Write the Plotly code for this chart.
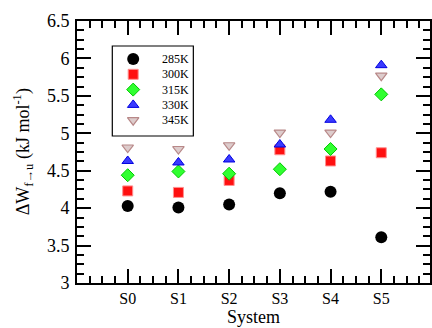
import plotly.graph_objects as go

# Work of unfolding per system at five temperatures
systems = ["S0", "S1", "S2", "S3", "S4", "S5"]
temps = ["285K", "300K", "315K", "330K", "345K"]
w_285 = [4.03, 4.01, 4.05, 4.20, 4.22, 3.61]
w_300 = [4.23, 4.21, 4.37, 4.78, 4.63, 4.74]
w_315 = [4.44, 4.49, 4.46, 4.52, 4.79, 5.52]
w_330 = [4.63, 4.61, 4.65, 4.85, 5.18, 5.91]
w_345 = [4.81, 4.79, 4.84, 5.01, 5.01, 5.77]

series = [w_285, w_300, w_315, w_330, w_345]
styles = [
    dict(symbol="circle", size=12, color="#000000", line=dict(color="#000000", width=0)),
    dict(symbol="square", size=10, color="#ff1010", line=dict(color="#ff9090", width=1)),
    dict(symbol="diamond", size=10, color="#30ff30", line=dict(color="#00c800", width=1)),
    dict(symbol="triangle-up", size=10, color="#3a3aff", line=dict(color="#0000e0", width=1)),
    dict(symbol="triangle-down", size=10, color="#ddcccc", line=dict(color="#b88888", width=1.2)),
]

FONT = "Liberation Serif, Times New Roman, serif"
W, H = 432, 328
L, T, B, R = 77, 21, 45, 0
unit_px = 51.0  # pixels per category step
plot_w = W - L - R
x_max = plot_w / unit_px

xpos = list(range(1, len(systems) + 1))

fig = go.Figure()
for vals, st, name in zip(series, styles, temps):
    fig.add_trace(go.Scatter(
        x=xpos, y=vals, mode="markers", name=name, showlegend=False,
        marker=st, cliponaxis=False,
    ))

# Boxed key in the upper left corner
box_l, box_t, box_r, box_b = 112.5, 46, 194, 136
row0, row_gap = 59, 15.3
sym_x, txt_x = 133.5, 160


def px_to_paper(xp, yp):
    return (xp - L) / plot_w, 1 - (yp - T) / (H - T - B)


x0p, y0p = px_to_paper(box_l, box_t)
x1p, y1p = px_to_paper(box_r, box_b)
fig.add_shape(type="rect", xref="paper", yref="paper", x0=x0p, y0=y1p, x1=x1p, y1=y0p,
              line=dict(color="black", width=1.2), fillcolor="white", layer="below")

key_x, key_y = [], []
for i, name in enumerate(temps):
    yp = row0 + i * row_gap
    xs, ys = px_to_paper(sym_x, yp)
    key_x.append(xs)
    key_y.append(ys)
    xt, yt = px_to_paper(txt_x, yp)
    fig.add_annotation(x=xt, y=yt, xref="paper", yref="paper", text=name,
                       showarrow=False, xanchor="left", yanchor="middle",
                       font=dict(family=FONT, size=12, color="black"))

for i, st in enumerate(styles):
    fig.add_trace(go.Scatter(
        x=[key_x[i]], y=[key_y[i]], xaxis="x2", yaxis="y2", mode="markers",
        marker=st, showlegend=False, hoverinfo="skip", cliponaxis=False,
    ))

fig.add_annotation(
    x=-0.155, y=0.5, xref="paper", yref="paper", textangle=-90, showarrow=False,
    text="ΔW<sub>f→u</sub> (kJ mol<sup>-1</sup>)",
    font=dict(family=FONT, size=18, color="black"), xanchor="center", yanchor="middle",
)

axis_common = dict(showline=True, linecolor="black", linewidth=2, mirror="ticks",
                   ticks="inside", tickcolor="black", tickwidth=1.5, ticklen=14,
                   showgrid=False, zeroline=False)

fig.update_layout(
    width=W, height=H,
    margin=dict(l=L, r=R, t=T, b=B),
    paper_bgcolor="white", plot_bgcolor="white",
    font=dict(family=FONT, color="black"),
    xaxis=dict(
        range=[0, x_max], tickmode="array", tickvals=xpos, ticktext=systems,
        tickfont=dict(family=FONT, size=16),
        minor=dict(dtick=0.25, tick0=0, ticks="inside", ticklen=7, tickwidth=1.5, tickcolor="black"),
        title=dict(text="System", font=dict(family=FONT, size=18), standoff=2),
        **axis_common,
    ),
    yaxis=dict(
        range=[3, 6.5], dtick=0.5, tick0=3,
        tickfont=dict(family=FONT, size=18), ticklabelstandoff=2,
        minor=dict(dtick=0.125, tick0=3, ticks="inside", ticklen=7, tickwidth=1.5, tickcolor="black"),
        **axis_common,
    ),
    xaxis2=dict(range=[0, 1], overlaying="x", visible=False, fixedrange=True),
    yaxis2=dict(range=[0, 1], overlaying="y", visible=False, fixedrange=True),
)

fig.write_html("out.html")
